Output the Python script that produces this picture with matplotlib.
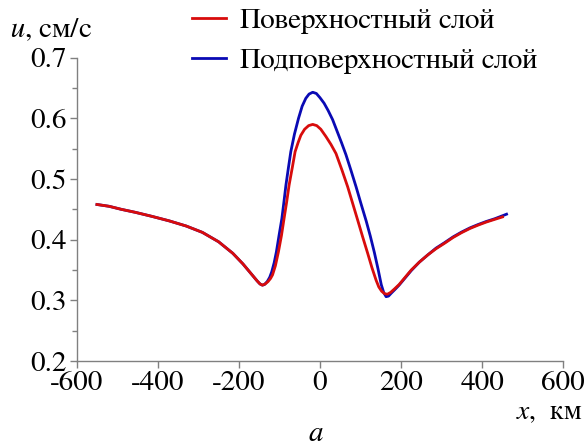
import matplotlib
matplotlib.use("Agg")
import matplotlib.pyplot as plt
from matplotlib import font_manager
from matplotlib.ticker import MultipleLocator

# pick a Times-like serif font that is really installed
names = set(f.name for f in font_manager.fontManager.ttflist)
serif = 'DejaVu Serif'
for cand in ['Tinos', 'FreeSerif', 'Liberation Serif', 'Times New Roman']:
    if cand in names:
        serif = cand
        break
plt.rcParams['font.family'] = [serif, 'DejaVu Serif']
plt.rcParams['mathtext.fontset'] = 'custom'
plt.rcParams['mathtext.it'] = serif + ':italic'
plt.rcParams['mathtext.rm'] = serif

# Surface layer (red)
x_surf = [-550, -520, -490, -455, -415, -372, -330, -290, -250, -215, -190, -170, -155,
          -148, -142, -135, -128, -122, -117, -110, -102.5, -95, -88.6, -82, -76.2, -68,
          -61.4, -54, -47.3, -38, -28, -18, -8, 2, 14.6, 27, 39.4, 54, 68.3, 80, 93, 105,
          117.8, 128, 138.4, 145, 152, 159, 166, 174, 184, 195, 210, 225, 245, 266, 286,
          307, 328, 349, 370, 390, 410, 431, 450]
u_surf = [0.458, 0.455, 0.450, 0.445, 0.4385, 0.431, 0.4225, 0.412, 0.3965, 0.3775, 0.360, 0.344, 0.332,
          0.327, 0.325, 0.327, 0.331, 0.336, 0.342, 0.357, 0.380, 0.407, 0.435, 0.463, 0.490, 0.520,
          0.545, 0.560, 0.572, 0.582, 0.588, 0.590, 0.588, 0.582, 0.570, 0.557, 0.542, 0.515, 0.487, 0.461, 0.432, 0.405,
          0.377, 0.354, 0.333, 0.322, 0.315, 0.311, 0.310, 0.313, 0.319, 0.326, 0.338, 0.350, 0.363, 0.375, 0.385,
          0.394, 0.4035, 0.4115, 0.4185, 0.424, 0.429, 0.4335, 0.4375]

# Subsurface layer (blue)
x_sub = [-550, -520, -490, -455, -415, -372, -330, -290, -250, -215, -190, -170, -155,
         -148, -142, -137, -130, -124, -119, -113, -107.5, -101, -94, -89, -84, -78,
         -72, -63, -53, -44, -35, -27, -18, -9, 0, 10, 20, 31, 42, 53, 64, 76, 89, 101,
         114, 124, 134, 143, 151, 157, 163, 169, 176, 185, 195, 210, 225, 245, 266, 286,
         307, 328, 349, 370, 390, 410, 431, 460]
u_sub = [0.458, 0.455, 0.450, 0.445, 0.4385, 0.431, 0.4225, 0.412, 0.3965, 0.3775, 0.360, 0.344, 0.332,
         0.327, 0.325, 0.326, 0.331, 0.338, 0.347, 0.362, 0.380, 0.407, 0.435, 0.462, 0.490, 0.518,
         0.545, 0.574, 0.600, 0.620, 0.633, 0.640, 0.643, 0.641, 0.634, 0.625, 0.613, 0.598, 0.579, 0.560, 0.540, 0.515, 0.487, 0.4595,
         0.4305, 0.406, 0.379, 0.352, 0.326, 0.313, 0.306, 0.307, 0.312, 0.318, 0.325, 0.337, 0.349, 0.363, 0.375, 0.386,
         0.395, 0.4045, 0.4125, 0.4195, 0.425, 0.430, 0.4345, 0.442]

x_ticks = [-600, -400, -200, 0, 200, 400, 600]
y_ticks = [0.2, 0.3, 0.4, 0.5, 0.6, 0.7]

fig = plt.figure(figsize=(5.84, 4.42), dpi=100)
ax = fig.add_axes([0.1313, 0.1833, 0.8333, 0.6862])

ax.plot(x_sub, u_sub, color='#0a0ab4', linewidth=2.0, label='Подповерхностный слой')
ax.plot(x_surf, u_surf, color='#d80c0c', linewidth=2.0, label='Поверхностный слой')

ax.set_xlim(-600, 600)
ax.set_ylim(0.2, 0.7)
ax.set_xticks(x_ticks)
ax.set_xticklabels([str(v) for v in x_ticks])  # plain hyphen as in the source
ax.set_yticks(y_ticks)
ax.set_yticklabels(['%.1f' % v for v in y_ticks])
ax.yaxis.set_minor_locator(MultipleLocator(0.05))

for side in ['top', 'right']:
    ax.spines[side].set_visible(False)
for side in ['left', 'bottom']:
    ax.spines[side].set_color('#808080')
    ax.spines[side].set_linewidth(1.0)
ax.tick_params(which='major', direction='out', length=5, width=1, color='#808080',
               labelsize=21, pad=2)
ax.tick_params(which='minor', direction='out', length=3.5, width=1, color='#808080')

h, l = ax.get_legend_handles_labels()
fig.legend(h[::-1], l[::-1], loc='upper left', bbox_to_anchor=(0.329, 0.982),
           frameon=False, fontsize=21, borderpad=0, borderaxespad=0,
           handlelength=1.15, handletextpad=0.5, labelspacing=0.45)

fig.text(0.017, 0.915, '$u$, см/с', fontsize=21)
fig.text(0.997, 0.052, '$x$,  км', fontsize=20, ha='right', va='baseline')
fig.text(0.541, 0.002, 'а', fontsize=21, style='italic', ha='center', va='baseline')

fig.savefig('out.png', dpi=100)
